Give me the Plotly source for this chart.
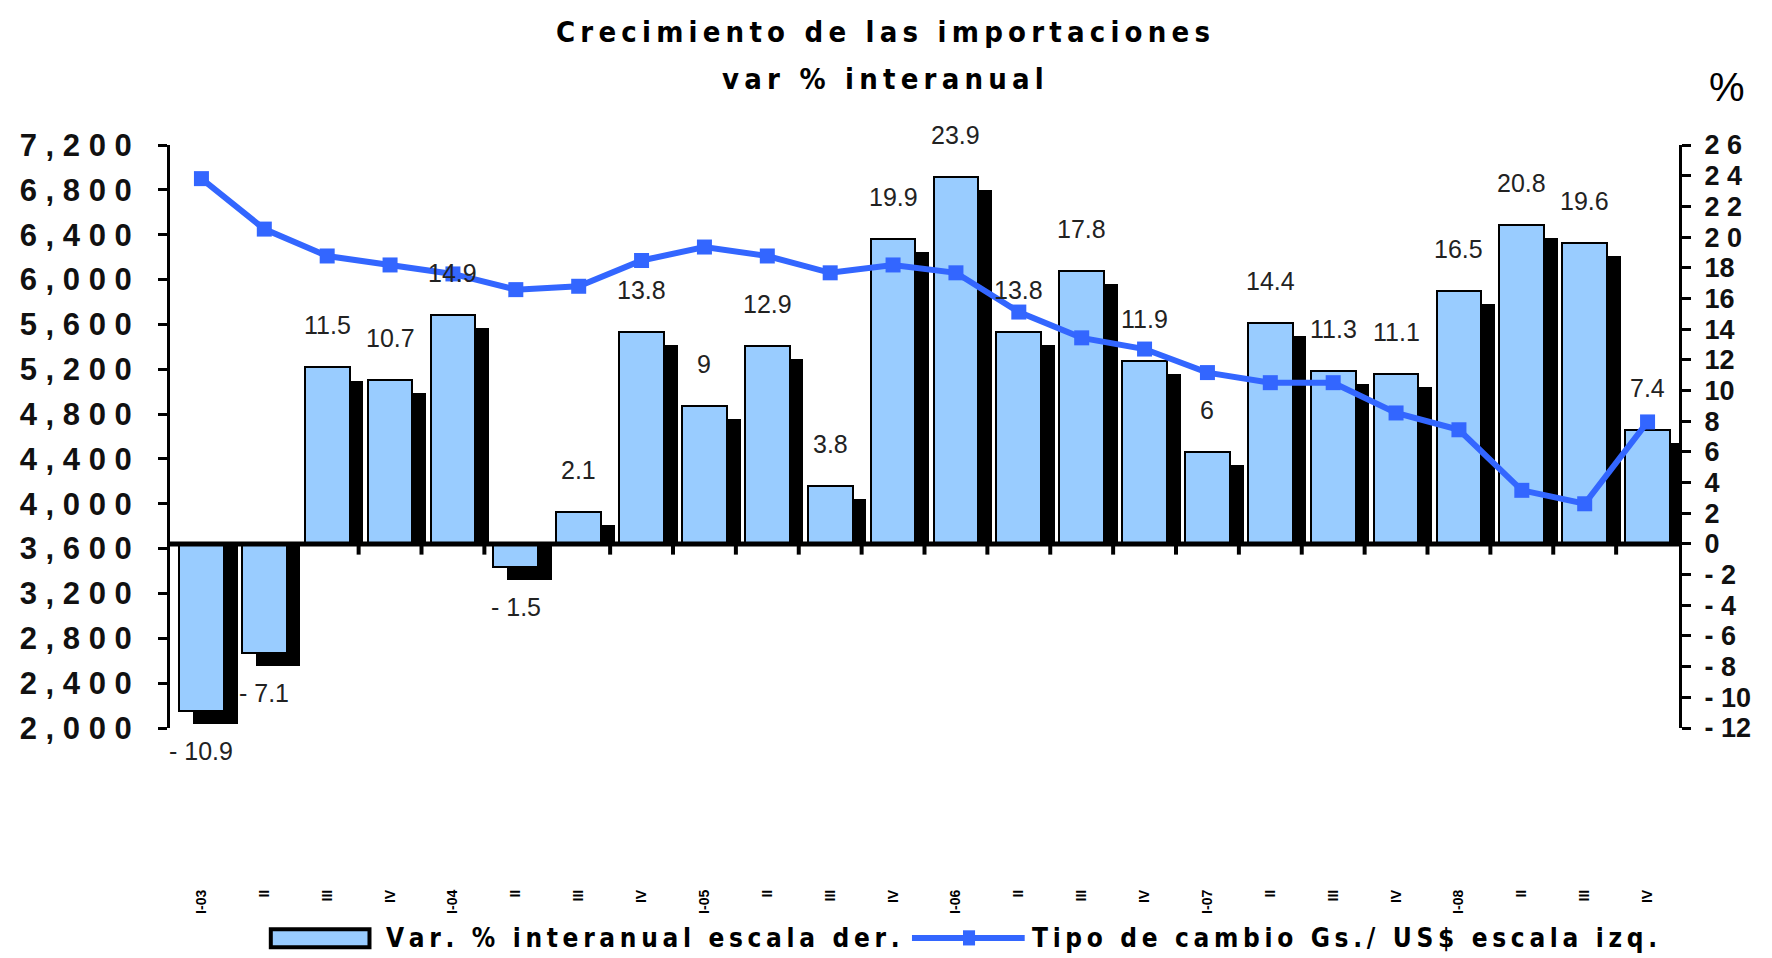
import plotly.graph_objects as go

# quarterly periods (x labels are illegible in the source, approximated)
periodos = ["I-03", "II", "III", "IV", "I-04", "II", "III", "IV",
            "I-05", "II", "III", "IV", "I-06", "II", "III", "IV",
            "I-07", "II", "III", "IV", "I-08", "II", "III", "IV"]
var_import = [-10.9, -7.1, 11.5, 10.7, 14.9, -1.5, 2.1, 13.8, 9, 12.9, 3.8, 19.9,
              23.9, 13.8, 17.8, 11.9, 6, 14.4, 11.3, 11.1, 16.5, 20.8, 19.6, 7.4]
tipo_cambio = [6900, 6450, 6210, 6130, 6050, 5910, 5940, 6170, 6290, 6210, 6060, 6130,
               6060, 5710, 5480, 5380, 5170, 5080, 5080, 4810, 4660, 4120, 4000, 4730]
izq_ticks = list(range(2000, 7201, 400))
der_ticks = list(range(-12, 27, 2))

LIGHT = "#99CCFF"
BLUE = "#3366FF"
NARROW = "Liberation Sans Narrow, DejaVu Sans Condensed, DejaVu Sans"


def sp(s, gap="\u2009"):
    return gap.join(list(s))


def fmt_izq(v):
    return " ".join(f"{v:,}")


def fmt_der(v):
    s = str(abs(v))
    if v >= 20:
        s = " ".join(s)
    if v < 0:
        s = "- " + s
    return s


xs = list(range(len(periodos)))
depth = 0.85  # shadow drop in % units

fig = go.Figure()
# shadow bars
fig.add_trace(go.Bar(
    x=xs, y=[v - depth for v in var_import], base=0,
    width=0.71, offset=-0.355 + 0.22, yaxis="y",
    marker=dict(color="black", line=dict(width=0)), showlegend=False, hoverinfo="skip"))
fig.add_trace(go.Bar(
    x=xs, y=var_import, width=0.71, offset=-0.355, yaxis="y",
    marker=dict(color=LIGHT, line=dict(color="black", width=2)),
    name="Var. % interanual escala der.", showlegend=False))
fig.add_trace(go.Scatter(
    x=xs, y=tipo_cambio, mode="lines+markers", yaxis="y2",
    line=dict(color=BLUE, width=6),
    marker=dict(symbol="square", size=15, color=BLUE),
    name="Tipo de cambio Gs./ US$ escala izq.", showlegend=False))

annotations = []
for i, v in enumerate(var_import):
    annotations.append(dict(
        x=i, y=v, xref="x", yref="y", text=f"{v:g}".replace("-", "- "),
        showarrow=False, yshift=42 if v > 0 else -40, yanchor="middle",
        font=dict(family="Liberation Sans, Arial", size=25, color="#222")))

annotations += [
    dict(x=0.4726, y=1.194, xref="paper", yref="paper", showarrow=False, yanchor="middle",
         text="<b>" + sp("Crecimiento de las importaciones") + "</b>",
         font=dict(family=NARROW, size=29, color="black")),
    dict(x=0.4726, y=1.113, xref="paper", yref="paper", showarrow=False, yanchor="middle",
         text="<b>" + sp("var % interanual") + "</b>",
         font=dict(family=NARROW, size=29, color="black")),
    dict(x=1.045, y=1.10, xref="paper", yref="paper", showarrow=False, yanchor="middle",
         text="%", font=dict(family="Liberation Sans, Arial", size=40, color="black")),
    dict(x=0.1421, y=-0.360, xref="paper", yref="paper", showarrow=False,
         xanchor="left", yanchor="middle",
         text="<b>" + sp("Var. % interanual escala der.") + "</b>",
         font=dict(family=NARROW, size=26, color="black")),
    dict(x=0.5697, y=-0.360, xref="paper", yref="paper", showarrow=False,
         xanchor="left", yanchor="middle",
         text="<b>" + sp("Tipo de cambio Gs./ US$ escala izq.") + "</b>",
         font=dict(family=NARROW, size=26, color="black")),
]

shapes = [
    # zero line of the % axis
    dict(type="line", xref="paper", yref="y", x0=0, x1=1, y0=0, y1=0,
         line=dict(color="black", width=5), layer="above"),
    # legend keys
    dict(type="rect", xref="paper", yref="paper", x0=0.0668, x1=0.1322, y0=-0.376, y1=-0.345,
         fillcolor=LIGHT, line=dict(color="black", width=4)),
    dict(type="line", xref="paper", yref="paper", x0=0.4917, x1=0.5664, y0=-0.360, y1=-0.360,
         line=dict(color=BLUE, width=6)),
    dict(type="rect", xref="paper", yref="paper", x0=0.5255, x1=0.5335, y0=-0.347, y1=-0.373,
         fillcolor=BLUE, line=dict(width=0)),
]
for k in range(len(periodos) - 1):
    shapes.append(dict(type="line", xref="x", yref="y", x0=k + 0.5, x1=k + 0.5,
                       y0=0, y1=-0.7, line=dict(color="black", width=4), layer="above"))

fig.update_layout(
    width=1772, height=958,
    # page body adds 8px offset; margins compensate
    margin=dict(l=158, r=101, t=137, b=238),
    paper_bgcolor="white", plot_bgcolor="white",
    barmode="overlay", bargap=0,
    showlegend=False,
    xaxis=dict(range=[-0.5, 23.5], tickmode="array", tickvals=xs, ticktext=periodos,
               tickangle=-90, ticks="", showline=False, showgrid=False, zeroline=False,
               ticklabelstandoff=158,
               tickfont=dict(family="Liberation Sans", size=14, color="black", weight="bold")),
    yaxis=dict(range=[-12, 26], side="right", tickmode="array",
               tickvals=der_ticks, ticktext=[fmt_der(v) for v in der_ticks],
               showgrid=False, zeroline=False, showline=True, linecolor="black", linewidth=3,
               ticks="outside", ticklen=9, tickwidth=3, tickcolor="black",
               ticklabelstandoff=8,
               tickfont=dict(family="Liberation Sans, Arial", size=27, color="#111", weight="bold")),
    yaxis2=dict(range=[2000, 7200], overlaying="y", side="left", tickmode="array",
                tickvals=izq_ticks, ticktext=[fmt_izq(v) for v in izq_ticks],
                showgrid=False, zeroline=False, showline=True, linecolor="black", linewidth=3,
                ticks="outside", ticklen=9, tickwidth=3, tickcolor="black",
                ticklabelstandoff=20,
                tickfont=dict(family="Liberation Sans, Arial", size=31, color="#111", weight="bold")),
    annotations=annotations,
    shapes=shapes,
)

fig.write_html("out.html")
